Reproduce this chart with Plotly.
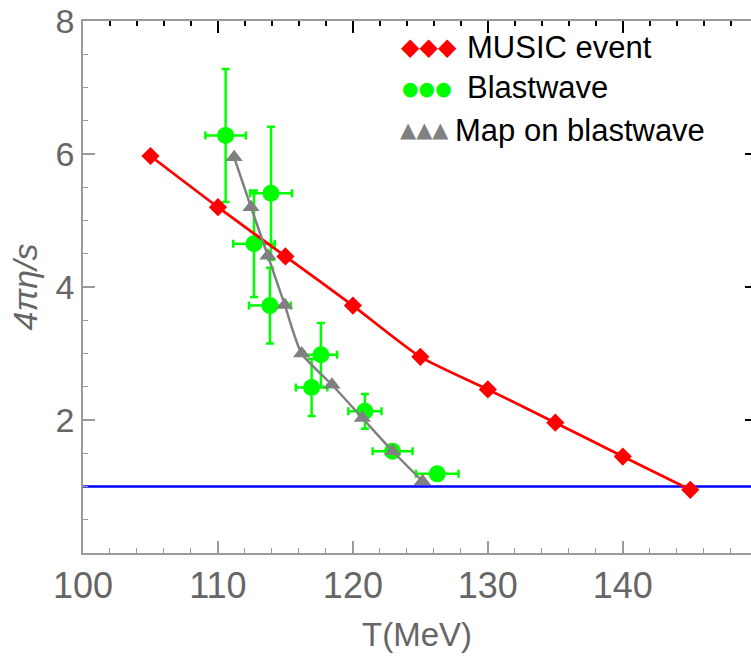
import plotly.graph_objects as go

# ---------------- data ----------------
music_T = [105, 110, 115, 120, 125, 130, 135, 140, 145]
music_eta = [5.97, 5.20, 4.46, 3.72, 2.95, 2.46, 1.96, 1.45, 0.95]

blast_T = [110.57, 113.93, 112.67, 113.85, 117.63, 116.94, 120.89, 122.94, 126.25]
blast_eta = [6.28, 5.41, 4.65, 3.72, 2.98, 2.49, 2.13, 1.53, 1.19]
blast_T_err = [1.5, 1.55, 1.54, 1.55, 1.2, 1.17, 1.23, 1.48, 1.58]
blast_eta_err = [1.0, 1.0, 0.8, 0.57, 0.48, 0.43, 0.26, 0.05, 0.05]

map_T = [111.2, 112.45, 113.7, 114.95, 116.2, 118.45, 120.7, 122.95, 125.15]
map_eta = [5.95, 5.20, 4.47, 3.73, 3.00, 2.53, 2.03, 1.53, 1.08]

kss_bound = 1.0
x_range = [100, 149.5]
y_range = [0, 8]
x_ticks = [100, 110, 120, 130, 140]
y_ticks = [2, 4, 6, 8]

legend_names = ["MUSIC event", "Blastwave", "Map on blastwave"]
legend_symbols = ["◆◆◆", "●●●", "▲▲▲"]

RED = "#ff0000"
GREEN = "#00ff00"
GRAY = "#808080"
BLUE = "#0000ff"
AXIS = "#9a9a9a"
LABEL = "#666666"
FONT = "Liberation Sans, Arial, sans-serif"

W, H = 751, 662
ML, MR, MT, MB = 83, 0, 21, 109

fig = go.Figure()

fig.add_hline(y=kss_bound, line=dict(color=BLUE, width=2.5), layer="below")

fig.add_trace(go.Scatter(
    x=blast_T, y=blast_eta, mode="markers", name=legend_names[1],
    marker=dict(symbol="circle", size=17, color=GREEN),
    error_x=dict(type="data", array=blast_T_err, color=GREEN, thickness=2.5, width=4),
    error_y=dict(type="data", array=blast_eta_err, color=GREEN, thickness=2.5, width=4),
    showlegend=False,
))

fig.add_trace(go.Scatter(
    x=music_T, y=music_eta, mode="lines+markers", name=legend_names[0],
    line=dict(color=RED, width=2.8, shape="spline", smoothing=0.6),
    marker=dict(symbol="diamond", size=14, color=RED),
    showlegend=False,
))

fig.add_trace(go.Scatter(
    x=map_T, y=map_eta, mode="lines+markers", name=legend_names[2],
    line=dict(color=GRAY, width=2.5, shape="spline", smoothing=0.6),
    marker=dict(symbol="triangle-up", size=15, color=GRAY),
    showlegend=False,
))

# invisible trace to activate mirror axes (top / right ticks)
fig.add_trace(go.Scatter(x=[None], y=[None], xaxis="x2", yaxis="y2",
                         showlegend=False, hoverinfo="skip"))

fig.update_layout(
    width=W, height=H,
    margin=dict(l=ML, r=MR, t=MT, b=MB, pad=0, autoexpand=False),
    paper_bgcolor="white", plot_bgcolor="white",
    font=dict(family=FONT, color=LABEL),
    xaxis=dict(
        range=x_range, tickvals=x_ticks, ticktext=[str(v) for v in x_ticks],
        showgrid=False, zeroline=False, showline=True, linecolor=AXIS, linewidth=1.5,
        ticks="inside", ticklen=12, tickwidth=1.5, tickcolor=AXIS,
        minor=dict(dtick=2, ticks="inside", ticklen=5, tickwidth=1.2, tickcolor=AXIS, showgrid=False),
        tickfont=dict(size=36, color=LABEL, family=FONT),
        ticklabeloverflow="allow", automargin=False,
        title=dict(text="T(MeV)", font=dict(size=33, color=LABEL, family=FONT), standoff=18),
    ),
    yaxis=dict(
        range=y_range, tickvals=y_ticks, ticktext=[str(v) for v in y_ticks],
        showgrid=False, zeroline=False, showline=True, linecolor=AXIS, linewidth=1.5,
        ticks="inside", ticklen=12, tickwidth=1.5, tickcolor=AXIS,
        minor=dict(dtick=0.5, ticks="inside", ticklen=5, tickwidth=1.2, tickcolor=AXIS, showgrid=False),
        tickfont=dict(size=34, color=LABEL, family=FONT),
        ticklabeloverflow="allow", automargin=False,
        title=dict(text="<i>4πη/s</i>", font=dict(size=34, color=LABEL, family=FONT), standoff=8),
    ),
    xaxis2=dict(
        overlaying="x", side="top", range=x_range,
        tickvals=x_ticks, showticklabels=False, automargin=False,
        showgrid=False, zeroline=False, showline=True, linecolor=AXIS, linewidth=1.5,
        ticks="inside", ticklen=12, tickwidth=1.8, tickcolor="black",
        minor=dict(dtick=2, ticks="inside", ticklen=5, tickwidth=1.5, tickcolor="black", showgrid=False),
    ),
    yaxis2=dict(
        overlaying="y", side="right", range=y_range,
        tickvals=y_ticks, showticklabels=False, automargin=False,
        showgrid=False, zeroline=False, showline=False,
        ticks="inside", ticklen=6, tickwidth=1.8, tickcolor="black",
    ),
    showlegend=False,
)

# legend drawn as text rows (three symbols + label)
def px_to_paper(px, py):
    return (px - ML) / (W - ML - MR), (H - MB - py) / (H - MT - MB)

legend_rows = [
    (399, 47, 465, legend_symbols[0], RED, 24),
    (400, 88, 465, legend_symbols[1], GREEN, 19),
    (398, 130, 453, legend_symbols[2], GRAY, 21),
]
for i, (sx, sy, tx, sym, col, ssize) in enumerate(legend_rows):
    x0, y0 = px_to_paper(sx, sy)
    x1, _ = px_to_paper(tx, sy)
    fig.add_annotation(xref="paper", yref="paper", x=x0, y=y0, xanchor="left", yanchor="middle",
                       text=sym, showarrow=False,
                       font=dict(size=ssize, color=col, family="DejaVu Sans"))
    fig.add_annotation(xref="paper", yref="paper", x=x1, y=y0, xanchor="left", yanchor="middle",
                       text=legend_names[i], showarrow=False,
                       font=dict(size=31, color="black", family=FONT))

fig.write_html("out.html")
